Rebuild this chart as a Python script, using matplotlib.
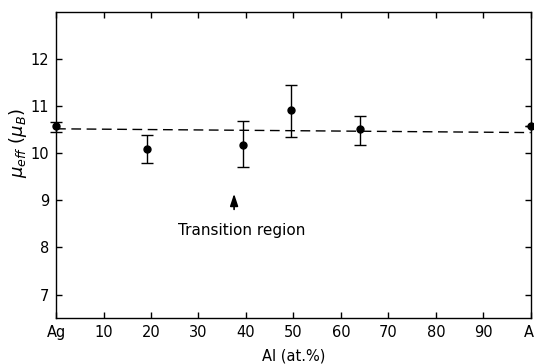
import matplotlib
matplotlib.use("Agg")
import matplotlib.pyplot as plt

# Al concentration (at.%), effective moment and error bar limits
al_pct = [0, 19.2, 39.3, 49.4, 64.0, 100]
mu_eff = [10.57, 10.09, 10.18, 10.93, 10.51, 10.58]
err_low = [0.11, 0.30, 0.48, 0.58, 0.33, 0.0]
err_high = [0.09, 0.29, 0.51, 0.53, 0.29, 0.0]

# dashed mean line endpoints
fit_x = [0, 100]
fit_y = [10.52, 10.44]

x_ticks = [0, 10, 20, 30, 40, 50, 60, 70, 80, 90, 100]
x_ticklabels = ["Ag", "10", "20", "30", "40", "50", "60", "70", "80", "90", "Al"]
y_ticks = [7, 8, 9, 10, 11, 12]

# arrow marking the transition region
arrow_x = 37.5
arrow_from = 8.75
arrow_to = 9.2

plt.rcParams['font.family'] = ['DejaVu Sans']

fig = plt.figure(figsize=(5.34, 3.64), dpi=100)
ax = fig.add_axes([0.105, 0.126, 0.889, 0.841])

ax.plot(fit_x, fit_y, color='black', lw=1.0, dashes=(7, 4), clip_on=False)
ax.errorbar(al_pct, mu_eff, yerr=[err_low, err_high], fmt='o', color='black',
            ms=5, capsize=4, elinewidth=1.0, capthick=1.0, clip_on=False, zorder=3)

ax.annotate('', xy=(arrow_x, arrow_to), xytext=(arrow_x, arrow_from),
            arrowprops=dict(arrowstyle='-|>,head_width=0.2,head_length=0.6',
                            color='black', lw=1.2, mutation_scale=12))
ax.text(39, 8.36, 'Transition region', ha='center', va='center', fontsize=11)

ax.set_xlim(0, 100)
ax.set_ylim(6.5, 13)
ax.set_xticks(x_ticks)
ax.set_xticklabels(x_ticklabels)
ax.set_yticks(y_ticks)
ax.tick_params(direction='in', length=4, width=1, top=True, right=True,
               labelsize=10.5, pad=5)
for sp in ax.spines.values():
    sp.set_linewidth(1.0)

ax.set_xlabel('Al (at.%)', fontsize=10.5, labelpad=6)
ax.set_ylabel(r'$\mu_{eff}$ ($\mu_B$)', fontsize=13)
ax.yaxis.set_label_coords(-0.056, 0.57)

fig.savefig('out.png', dpi=100)
